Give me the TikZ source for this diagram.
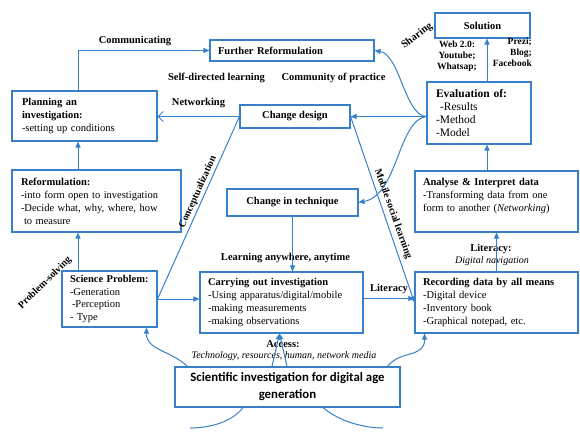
\documentclass[tikz,border=0pt]{standalone}
\usepackage{fontspec}
\setmainfont{Liberation Serif}
\newfontfamily\calfont{Carlito}
\usetikzlibrary{arrows.meta}
\definecolor{bc}{RGB}{55,128,200}
\begin{document}
\begin{tikzpicture}[x=1pt,y=-1pt,
  box/.style={draw=bc, line width=1.1pt, fill=white, inner sep=0pt, align=left, font=\fontsize{10.5}{13}\selectfont},
  cbox/.style={box, align=center},
  lbl/.style={font=\fontsize{10.5}{12}\selectfont\bfseries, inner sep=0pt},
  slbl/.style={font=\fontsize{10}{12}\selectfont\bfseries, inner sep=0pt},
  wlbl/.style={font=\fontsize{9.5}{10.8}\selectfont\bfseries, inner sep=0pt},
  ilbl/.style={font=\fontsize{10}{12}\selectfont\itshape, inner sep=0pt},
  con/.style={draw=bc, line width=1pt},
  arr/.style={con, -{Triangle[length=6pt,width=5pt]}},
  oarr/.style={con, -{Straight Barb[length=5pt,width=10pt]}},
]
\useasboundingbox (0,0) rectangle (580,436);

% boxes
\node[box, minimum width=164pt, minimum height=21pt, text width=148pt] (furth) at (292,50.5) {\textbf{Further Reformulation}};
\node[cbox, minimum width=95pt, minimum height=25pt] (sol) at (482.5,25.5) {\textbf{Solution}};
\node[box, minimum width=145pt, minimum height=50pt, text width=125pt] (plan) at (84.5,116) {\textbf{Planning an}\\\textbf{investigation:}\\-setting up conditions};
\node[cbox, minimum width=110pt, minimum height=23pt] (cdes) at (295,116.5) {\textbf{Change design}};
\node[box, minimum width=104pt, minimum height=62pt, text width=86pt, font=\fontsize{11.5}{13}\selectfont] (eval) at (479,113) {\textbf{Evaluation of:}\\\hspace*{4pt}-Results\\-Method\\-Model};
\node[box, minimum width=169pt, minimum height=62pt, text width=151pt] (reform) at (96.5,201) {\textbf{Reformulation:}\\\mbox{-into form open to investigation}\\\mbox{-Decide what, why, where, how}\\\hspace*{3pt}to measure};
\node[cbox, minimum width=131pt, minimum height=27pt] (ctech) at (292.5,202.5) {\textbf{Change in technique}};
\node[box, minimum width=163pt, minimum height=61pt, text width=147pt] (anal) at (496.5,201.5) {\textbf{Analyse \& Interpret data}\\\mbox{-Transforming data from one}\\\mbox{form to another (\textit{Networking})}\\\mbox{}};
\node[box, minimum width=95pt, minimum height=56pt, text width=79pt, font=\fontsize{10.5}{12.5}\selectfont] (sci) at (109.5,299) {\textbf{Science Problem:}\\-Generation\\\hspace*{2pt}-Perception\\- Type};
\node[box, minimum width=163pt, minimum height=61pt, text width=147pt] (carry) at (281.5,302.5) {\mbox{\textbf{Carrying out investigation}}\\\mbox{-Using apparatus/digital/mobile}\\-making measurements\\-making observations};
\node[box, minimum width=163pt, minimum height=61pt, text width=147pt] (rec) at (496.5,302.5) {\mbox{\textbf{Recording data by all means}}\\-Digital device\\-Inventory book\\-Graphical notepad, etc.};
\node[cbox, minimum width=225pt, minimum height=40pt, font={\fontsize{12.8}{17}\selectfont\calfont\bfseries}] (inv) at (287.5,387) {Scientific investigation for digital age\\generation};

% labels
\node[lbl] (lcomm) at (135,41) {Communicating};
\node[lbl] (lsdl) at (216.5,78) {Self-directed learning};
\node[lbl] (lcop) at (333.5,78) {Community of practice};
\node[lbl] (lnet) at (198.5,103) {Networking};
\node[lbl, rotate=37] (lshare) at (417,36) {Sharing};
\node[wlbl, align=center] (lweb) at (457,56) {Web 2.0:\\Youtube;\\Whatsap;};
\node[wlbl, align=right, anchor=east] (lprezi) at (532,52) {Prezi;\\Blog;\\Facebook};
\node[slbl, rotate=65.6] (lconc) at (198,192) {Conceptualization};
\node[slbl, rotate=-70.2] (lmob) at (393,214) {Mobile social learning};
\node[slbl, rotate=44.5] (lprob) at (45,283) {Problem-solving};
\node[lbl] (llearn) at (285.5,258) {Learning anywhere, anytime};
\node[lbl] (llit) at (389,289) {Literacy};
\node[lbl] (llit2) at (491,249) {Literacy:};
\node[ilbl] (ldig) at (492,261) {Digital navigation};
\node[lbl] (lacc) at (283,344) {Access:};
\node[ilbl] (ltech) at (284,356) {Technology, resources, human, network media};

% connectors
\coordinate (colx) at (78,0);
\coordinate (coly) at (487,0);
\draw[arr] (plan.north -| colx) |- (furth.west);
\draw[oarr] (cdes.west) -- (cdes.west -| plan.east);
\draw[arr] (reform.north -| colx) -- (plan.south -| colx);
\draw[arr] (sci.north -| colx) -- (reform.south -| colx);
\draw[arr] (sci.east) -- (sci.east -| carry.west);
\draw[con] (sci.east) -- (cdes.west);
\draw[arr] (cdes.east) -- (rec.west);
\draw[arr] (ctech.south) -- (ctech.south |- carry.north);
\draw[arr] ([yshift=4pt]carry.east) -- ([yshift=4pt]carry.east -| rec.west);
\draw[arr] (rec.north) -- (anal.south);
\draw[arr] (anal.north -| coly) -- (eval.south -| coly);
\draw[arr] (eval.north -| coly) -- (sol.south -| coly);
\coordinate (ew) at (eval.west |- cdes.east);
\draw[arr] (ew) -- (cdes.east);
\draw[arr] (ew) .. controls (405,116) and (400,55) .. (furth.east);
\draw[arr] (ew) .. controls (398,120) and (398,195) .. (ctech.east);

\draw[arr] ([xshift=13pt]inv.north west) .. controls (170,350) and (146,350) .. ([xshift=-11pt]sci.south east);
\draw[arr] ([xshift=-15.5pt]inv.north) -- ([xshift=-2pt]carry.south);
\draw[arr] ([xshift=-0.5pt]inv.north) -- ([xshift=-2pt]carry.south);
\draw[arr] ([xshift=-13pt]inv.north east) .. controls (400,350) and (425,358) .. ([xshift=10pt]rec.south west);
\coordinate (bl) at (190,428);
\coordinate (br) at (383,428);
\draw[con] ([xshift=-44.5pt]inv.south) .. controls (232,422) and (210,428) .. (bl);
\draw[con] ([xshift=35.5pt]inv.south) .. controls (340,422) and (365,428) .. (br);
\end{tikzpicture}
\end{document}
